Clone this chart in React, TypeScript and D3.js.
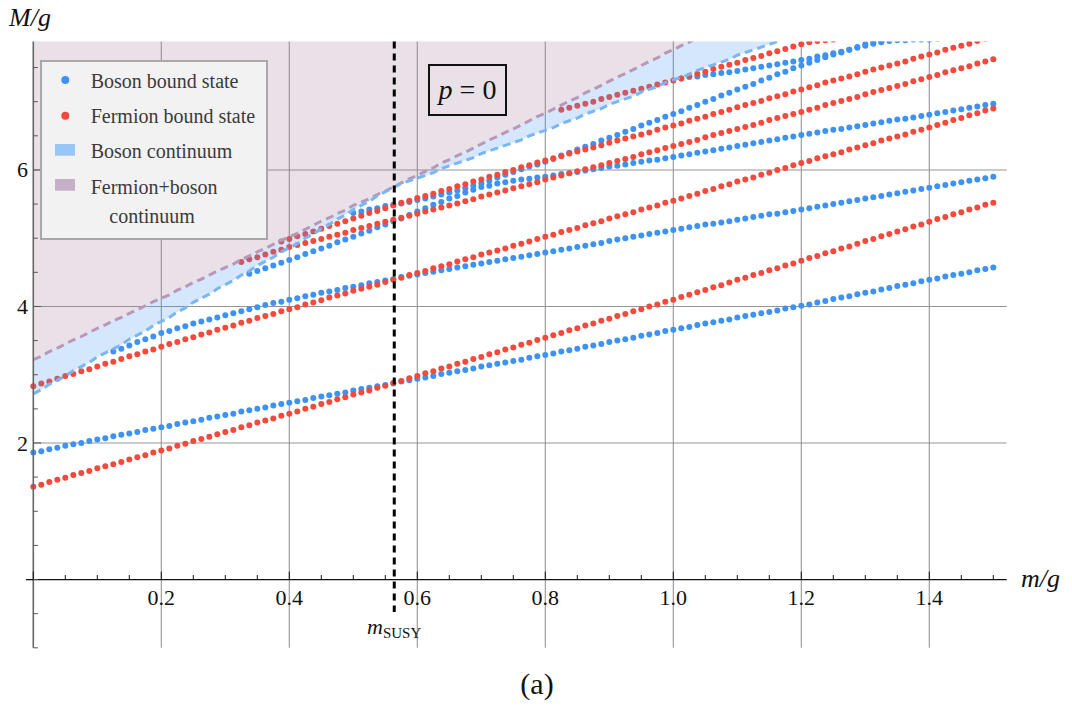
import React from 'react';
import * as d3 from 'd3';

// ---------- data ----------
const STEP = 0.0125; // spacing of the sampled m/g values
const mGrid = d3.range(121).map((i) => +(i * STEP).toFixed(4));

const boson1Start = 0;
const boson1 = [
  1.86, 1.88, 1.91, 1.93, 1.96, 1.98, 2.0, 2.03, 2.05,
  2.07, 2.1, 2.12, 2.14, 2.16, 2.19, 2.21, 2.23,
  2.25, 2.28, 2.3, 2.32, 2.34, 2.37, 2.39, 2.41,
  2.43, 2.46, 2.48, 2.5, 2.52, 2.55, 2.57, 2.59,
  2.61, 2.63, 2.66, 2.68, 2.7, 2.72, 2.74, 2.77,
  2.79, 2.81, 2.83, 2.85, 2.87, 2.9, 2.92, 2.94,
  2.96, 2.98, 3.01, 3.03, 3.05, 3.07, 3.09, 3.12,
  3.14, 3.16, 3.18, 3.2, 3.22, 3.25, 3.27, 3.29,
  3.31, 3.34, 3.36, 3.38, 3.41, 3.43, 3.45, 3.48,
  3.5, 3.52, 3.54, 3.57, 3.59, 3.61, 3.64, 3.66,
  3.68, 3.7, 3.73, 3.75, 3.77, 3.79, 3.81, 3.84,
  3.86, 3.88, 3.9, 3.92, 3.94, 3.97, 3.99, 4.01,
  4.03, 4.06, 4.08, 4.11, 4.13, 4.15, 4.18, 4.2,
  4.22, 4.25, 4.27, 4.3, 4.32, 4.34, 4.37, 4.39,
  4.41, 4.44, 4.46, 4.48, 4.5, 4.53, 4.55, 4.57,
];

const fermion1Start = 0;
const fermion1 = [
  1.36, 1.39, 1.43, 1.46, 1.49, 1.53, 1.56, 1.59, 1.63,
  1.66, 1.69, 1.72, 1.76, 1.79, 1.82, 1.86, 1.89,
  1.92, 1.96, 1.99, 2.03, 2.06, 2.09, 2.13, 2.16,
  2.19, 2.23, 2.26, 2.3, 2.33, 2.36, 2.4, 2.43,
  2.46, 2.5, 2.53, 2.57, 2.6, 2.64, 2.67, 2.71,
  2.74, 2.77, 2.81, 2.84, 2.88, 2.91, 2.95, 2.98,
  3.02, 3.05, 3.09, 3.12, 3.16, 3.19, 3.23, 3.26,
  3.3, 3.33, 3.37, 3.4, 3.44, 3.47, 3.51, 3.54,
  3.58, 3.61, 3.65, 3.68, 3.72, 3.75, 3.79, 3.82,
  3.86, 3.89, 3.93, 3.96, 4.0, 4.03, 4.07, 4.1,
  4.14, 4.17, 4.21, 4.24, 4.28, 4.31, 4.35, 4.39,
  4.42, 4.46, 4.49, 4.53, 4.56, 4.6, 4.63, 4.67,
  4.71, 4.74, 4.78, 4.81, 4.85, 4.88, 4.92, 4.96,
  4.99, 5.03, 5.06, 5.1, 5.13, 5.17, 5.2, 5.24,
  5.28, 5.31, 5.35, 5.38, 5.42, 5.45, 5.49, 5.52,
];

const fermion2Start = 0;
const fermion2 = [
  2.83, 2.87, 2.9, 2.94, 2.98, 3.01, 3.05, 3.08, 3.12,
  3.16, 3.19, 3.23, 3.27, 3.3, 3.34, 3.37, 3.41,
  3.45, 3.48, 3.52, 3.55, 3.59, 3.62, 3.66, 3.69,
  3.72, 3.76, 3.79, 3.83, 3.86, 3.89, 3.93, 3.96,
  3.99, 4.03, 4.06, 4.09, 4.13, 4.16, 4.19, 4.23,
  4.26, 4.29, 4.32, 4.36, 4.39, 4.42, 4.46, 4.49,
  4.52, 4.56, 4.59, 4.62, 4.66, 4.69, 4.72, 4.76,
  4.79, 4.82, 4.85, 4.89, 4.92, 4.95, 4.99, 5.02,
  5.05, 5.09, 5.12, 5.15, 5.19, 5.22, 5.25, 5.29,
  5.32, 5.35, 5.38, 5.42, 5.45, 5.48, 5.52, 5.55,
  5.58, 5.62, 5.65, 5.69, 5.72, 5.76, 5.79, 5.83,
  5.86, 5.89, 5.93, 5.96, 6.0, 6.03, 6.07, 6.1,
  6.13, 6.17, 6.2, 6.23, 6.26, 6.3, 6.33, 6.36,
  6.39, 6.43, 6.46, 6.49, 6.52, 6.56, 6.59, 6.62,
  6.66, 6.69, 6.73, 6.76, 6.8, 6.83, 6.87, 6.9,
];

const boson2Start = 10;
const boson2 = [
  3.34, 3.38, 3.43, 3.48, 3.52, 3.56, 3.61,
  3.64, 3.68, 3.71, 3.75, 3.78, 3.81, 3.84, 3.87,
  3.9, 3.93, 3.96, 3.99, 4.02, 4.05, 4.07, 4.1,
  4.12, 4.15, 4.17, 4.2, 4.22, 4.24, 4.27, 4.29,
  4.31, 4.34, 4.36, 4.38, 4.4, 4.43, 4.45, 4.47,
  4.49, 4.51, 4.53, 4.55, 4.57, 4.59, 4.61, 4.63,
  4.65, 4.67, 4.69, 4.71, 4.73, 4.75, 4.77, 4.79,
  4.81, 4.83, 4.85, 4.87, 4.89, 4.91, 4.93, 4.96,
  4.98, 5.0, 5.02, 5.04, 5.06, 5.08, 5.1, 5.12,
  5.14, 5.16, 5.18, 5.2, 5.21, 5.23, 5.25, 5.27,
  5.29, 5.31, 5.33, 5.35, 5.36, 5.38, 5.4, 5.42,
  5.44, 5.46, 5.48, 5.5, 5.52, 5.54, 5.56, 5.58,
  5.6, 5.62, 5.64, 5.66, 5.68, 5.7, 5.72, 5.74,
  5.76, 5.78, 5.8, 5.82, 5.84, 5.86, 5.88, 5.9,
];

const fermion3Start = 26;
const fermion3 = [
  4.65, 4.69, 4.72, 4.76, 4.8, 4.83, 4.87,
  4.9, 4.93, 4.96, 4.99, 5.02, 5.05, 5.08, 5.12,
  5.15, 5.18, 5.21, 5.24, 5.27, 5.3, 5.33, 5.36,
  5.39, 5.42, 5.45, 5.48, 5.51, 5.54, 5.57, 5.61,
  5.64, 5.67, 5.7, 5.73, 5.76, 5.79, 5.82, 5.86,
  5.89, 5.92, 5.95, 5.98, 6.01, 6.04, 6.07, 6.1,
  6.13, 6.16, 6.19, 6.23, 6.26, 6.29, 6.32, 6.35,
  6.38, 6.41, 6.44, 6.48, 6.51, 6.54, 6.57, 6.6,
  6.63, 6.66, 6.69, 6.73, 6.76, 6.79, 6.82, 6.85,
  6.88, 6.91, 6.95, 6.98, 7.01, 7.04, 7.07, 7.11,
  7.14, 7.17, 7.2, 7.23, 7.26, 7.3, 7.33, 7.36,
  7.39, 7.43, 7.46, 7.49, 7.52, 7.56, 7.59, 7.62,
];

const boson3Start = 27;
const boson3 = [
  4.48, 4.52, 4.56, 4.6, 4.64, 4.68,
  4.72, 4.77, 4.81, 4.85, 4.89, 4.94, 4.98, 5.02,
  5.07, 5.11, 5.16, 5.2, 5.25, 5.29, 5.34, 5.39,
  5.44, 5.49, 5.53, 5.58, 5.62, 5.67, 5.71, 5.75,
  5.77, 5.8, 5.82, 5.84, 5.86, 5.87, 5.89, 5.9,
  5.92, 5.94, 5.95, 5.97, 5.99, 6.01, 6.03, 6.05,
  6.06, 6.08, 6.1, 6.12, 6.14, 6.15, 6.17, 6.19,
  6.21, 6.23, 6.25, 6.27, 6.29, 6.31, 6.33, 6.35,
  6.37, 6.39, 6.41, 6.43, 6.45, 6.47, 6.49, 6.51,
  6.53, 6.55, 6.57, 6.59, 6.6, 6.62, 6.64, 6.66,
  6.68, 6.7, 6.72, 6.74, 6.75, 6.77, 6.79, 6.81,
  6.83, 6.85, 6.87, 6.89, 6.91, 6.93, 6.95, 6.97,
];

const fermion4Start = 31;
const fermion4 = [
  4.95, 4.99,
  5.03, 5.06, 5.1, 5.14, 5.18, 5.21, 5.25, 5.29,
  5.33, 5.37, 5.4, 5.44, 5.48, 5.52, 5.55, 5.59,
  5.62, 5.65, 5.69, 5.72, 5.76, 5.79, 5.83, 5.86,
  5.9, 5.93, 5.97, 6.0, 6.04, 6.07, 6.11, 6.14,
  6.17, 6.2, 6.24, 6.27, 6.3, 6.33, 6.36, 6.4,
  6.43, 6.46, 6.49, 6.52, 6.55, 6.59, 6.62, 6.65,
  6.68, 6.72, 6.75, 6.78, 6.82, 6.85, 6.88, 6.92,
  6.95, 6.98, 7.01, 7.05, 7.08, 7.11, 7.15, 7.18,
  7.21, 7.24, 7.28, 7.31, 7.34, 7.37, 7.4, 7.44,
  7.47, 7.5, 7.53, 7.56, 7.59, 7.63, 7.66, 7.69,
  7.72, 7.76, 7.79, 7.82, 7.85, 7.89, 7.92,
];

const boson4Start = 40;
const boson4 = [
  5.37,
  5.39, 5.42, 5.44, 5.47, 5.49, 5.51, 5.53, 5.56,
  5.58, 5.61, 5.64, 5.67, 5.7, 5.73, 5.77, 5.8,
  5.84, 5.89, 5.93, 5.97, 6.01, 6.05, 6.08, 6.12,
  6.16, 6.21, 6.25, 6.3, 6.34, 6.38, 6.43, 6.47,
  6.51, 6.56, 6.6, 6.65, 6.69, 6.73, 6.78, 6.82,
  6.86, 6.91, 6.95, 7.0, 7.04, 7.09, 7.13, 7.18,
  7.22, 7.26, 7.31, 7.35, 7.4, 7.44, 7.49, 7.53,
  7.57, 7.61, 7.65, 7.69, 7.72, 7.76, 7.8, 7.84,
  7.87, 7.89,
];

const boson5Start = 81;
const boson5 = [
  7.34, 7.36, 7.37, 7.39, 7.4, 7.42, 7.43, 7.45,
  7.47, 7.49, 7.51, 7.53, 7.55, 7.57, 7.59, 7.61,
  7.63, 7.66, 7.68, 7.71, 7.73, 7.76, 7.79, 7.82,
  7.85, 7.87, 7.89, 7.9, 7.9, 7.91, 7.91, 7.91, 7.92,
];

const fermion5Start = 66;
const fermion5 = [
  6.88, 6.91, 6.94, 6.97, 7.0, 7.04, 7.07,
  7.1, 7.13, 7.16, 7.19, 7.22, 7.25, 7.28, 7.31,
  7.34, 7.38, 7.41, 7.44, 7.48, 7.51, 7.54, 7.57,
  7.61, 7.64, 7.67, 7.71, 7.74, 7.77, 7.81, 7.84,
  7.87, 7.89, 7.9, 7.91,
];

const xMajorTicks = [0.2, 0.4, 0.6, 0.8, 1.0, 1.2, 1.4];
const xTickLabels = ['0.2', '0.4', '0.6', '0.8', '1.0', '1.2', '1.4'];
const yMajorTicks = [2, 4, 6];
const yTickLabels = ['2', '4', '6'];
const mSusy = 0.564;

const legendItems = ['Boson bound state', 'Fermion bound state', 'Boson continuum', 'Fermion+boson', 'continuum'];

// ---------- styling ----------
const BLUE = '#3d92f5';
const RED = '#f5493b';
const FONT = "'Liberation Serif', 'DejaVu Serif', serif";

const x = d3.scaleLinear().domain([0, 1.5]).range([33.3, 993.3]);
const y = d3.scaleLinear().domain([-1, 7.88]).range([647.8, 41.6]);
const PL = 26, PR = 1006.7, PT = 41.6, PB = 647.8;

const bosons = [
  { start: boson1Start, values: boson1 },
  { start: boson2Start, values: boson2 },
  { start: boson3Start, values: boson3 },
  { start: boson4Start, values: boson4 },
  { start: boson5Start, values: boson5 },
];
const fermions = [
  { start: fermion1Start, values: fermion1 },
  { start: fermion2Start, values: fermion2 },
  { start: fermion3Start, values: fermion3 },
  { start: fermion4Start, values: fermion4 },
  { start: fermion5Start, values: fermion5 },
];

// continuum thresholds from lightest states
const nT = Math.min(boson1.length, fermion1.length);
const idx = d3.range(nT);
const bosonThreshold = idx.map((i) => Math.min(2 * boson1[i], 2 * fermion1[i]));
const mixedThreshold = idx.map((i) => boson1[i] + fermion1[i]);

export default function App() {
  const bandArea = d3
    .area<number>()
    .x((i) => x(mGrid[i]))
    .y0((i) => y(bosonThreshold[i]))
    .y1((i) => y(mixedThreshold[i]));
  const topArea = d3
    .area<number>()
    .x((i) => x(mGrid[i]))
    .y0((i) => y(mixedThreshold[i]))
    .y1(() => y(9));
  const lineB = d3.line<number>().x((i) => x(mGrid[i])).y((i) => y(bosonThreshold[i]));
  const lineM = d3.line<number>().x((i) => x(mGrid[i])).y((i) => y(mixedThreshold[i]));

  const xMinor = d3.range(0, 31).map((k) => k * 0.05);
  const yMinor = d3.range(-2, 16).map((k) => k * 0.5);

  const dots = (list: { start: number; values: number[] }[], color: string, key: string) =>
    list.map((s, si) =>
      s.values.map((v, i) => (
        <circle key={`${key}${si}-${i}`} cx={x(mGrid[s.start + i])} cy={y(v)} r={3} fill={color} />
      ))
    );

  return (
    <svg width={1072} height={706} style={{ position: 'absolute', left: 0, top: 0, background: '#fff' }}
      fontFamily={FONT}>
      <defs>
        <clipPath id="plotClip">
          <rect x={PL} y={PT} width={PR - PL} height={PB - PT} />
        </clipPath>
      </defs>

      {/* grid */}
      <g stroke="#959595" strokeWidth={1.1}>
        {xMajorTicks.map((t) => (
          <line key={`gx${t}`} x1={x(t)} x2={x(t)} y1={PT} y2={PB} />
        ))}
        {yMajorTicks.map((t) => (
          <line key={`gy${t}`} x1={x(0)} x2={PR} y1={y(t)} y2={y(t)} />
        ))}
      </g>

      <g clipPath="url(#plotClip)">
        {dots(bosons, BLUE, 'b')}
        {dots(fermions, RED, 'f')}
        <path d={topArea(idx) ?? ''} fill="#a07296" fillOpacity={0.22} />
        <path d={bandArea(idx) ?? ''} fill={BLUE} fillOpacity={0.22} />
        <path d={lineM(idx) ?? ''} fill="none" stroke="#b898b8" strokeWidth={3} strokeDasharray="8 5" />
        <path d={lineB(idx) ?? ''} fill="none" stroke="#7ab6f5" strokeWidth={3} strokeDasharray="8 5" />
      </g>

      {/* axes */}
      <line x1={x(0)} x2={x(0)} y1={PT} y2={PB} stroke="#666" strokeWidth={1.6} />
      <line x1={PL} x2={PR} y1={y(0)} y2={y(0)} stroke="#111" strokeWidth={1.3} />
      <g stroke="#111" strokeWidth={1}>
        {xMinor.map((t, k) => {
          const major = k % 4 === 0;
          return <line key={`xt${k}`} x1={x(t)} x2={x(t)} y1={y(0)} y2={y(0) - (major ? 8 : 4.5)} />;
        })}
      </g>
      <g stroke="#555" strokeWidth={1}>
        {yMinor.map((t, k) => {
          const major = t === 2 || t === 4 || t === 6;
          return <line key={`yt${k}`} x1={x(0)} x2={x(0) + (major ? 8 : 4.5)} y1={y(t)} y2={y(t)} />;
        })}
      </g>
      <g fontSize={22} fill="#111">
        {xMajorTicks.map((t, k) => (
          <text key={`xl${t}`} x={x(t)} y={605} textAnchor="middle">{xTickLabels[k]}</text>
        ))}
        {yMajorTicks.map((t, k) => (
          <text key={`yl${t}`} x={28} y={y(t) + 7.5} textAnchor="end">{yTickLabels[k]}</text>
        ))}
      </g>
      <text x={9} y={26} fontSize={26} fontStyle="italic" fill="#111">M/g</text>
      <text x={1021} y={587} fontSize={26} fontStyle="italic" fill="#111">m/g</text>

      {/* m_SUSY */}
      <line x1={x(mSusy)} x2={x(mSusy)} y1={PT} y2={612} stroke="#000" strokeWidth={3} strokeDasharray="7 5" />
      <text x={367} y={634} fill="#111">
        <tspan fontSize={22} fontStyle="italic">m</tspan>
        <tspan fontSize={15} dy={4}>SUSY</tspan>
      </text>

      {/* p = 0 box */}
      <rect x={429} y={65} width={77} height={50} fill="none" stroke="#111" strokeWidth={2} />
      <text x={467.5} y={99} fontSize={28} textAnchor="middle" fill="#111">
        <tspan fontStyle="italic">p</tspan>
        <tspan> = 0</tspan>
      </text>

      {/* legend */}
      <rect x={41} y={61} width={226} height={178} fill="#f2f2f2" stroke="#a8a8a8" strokeWidth={2} />
      <circle cx={65.3} cy={80} r={4} fill={BLUE} />
      <circle cx={65.3} cy={115.7} r={4} fill={RED} />
      <rect x={55} y={144} width={20} height={11.7} fill="#97c7f8" />
      <rect x={55} y={179} width={20} height={11.7} fill="#c6b0c8" />
      <g fontSize={20} fill="#3a3a3a">
        <text x={90.7} y={87.5}>{legendItems[0]}</text>
        <text x={90.7} y={123}>{legendItems[1]}</text>
        <text x={90.7} y={158}>{legendItems[2]}</text>
        <text x={90.7} y={193.5}>{legendItems[3]}</text>
        <text x={109.3} y={223}>{legendItems[4]}</text>
      </g>

      <text x={537} y={694} fontSize={30} textAnchor="middle" fill="#111">(a)</text>
    </svg>
  );
}
